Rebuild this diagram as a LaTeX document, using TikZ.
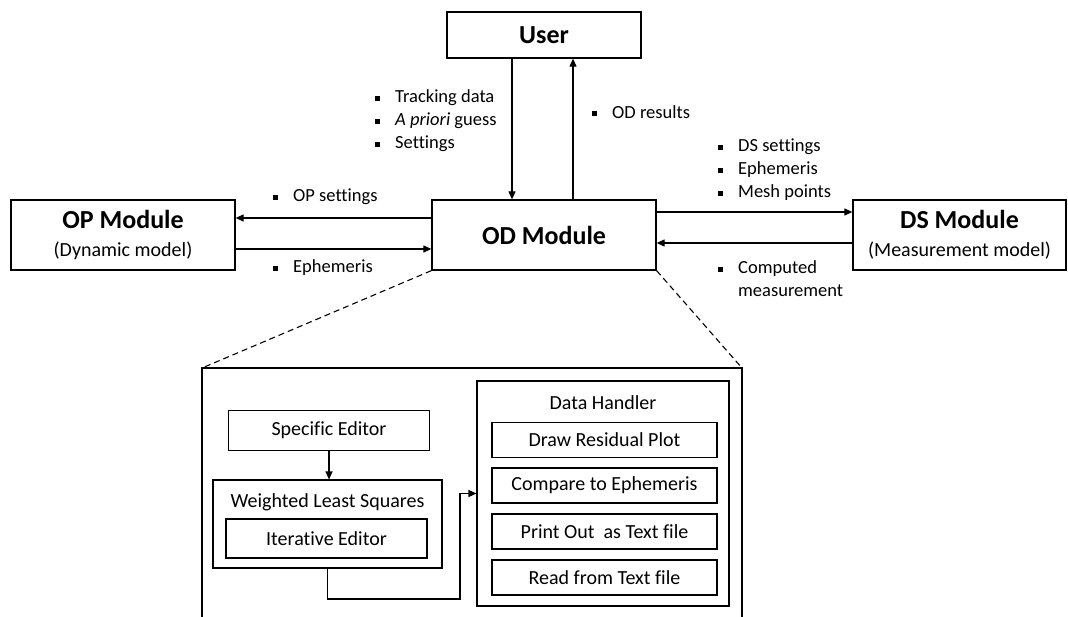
\documentclass[tikz,border=0pt]{standalone}
\usepackage{fontspec}
\setmainfont{Carlito}[Ligatures=NoCommon]
\usetikzlibrary{arrows.meta,calc}
\newcommand\bitem[1]{\makebox[20pt][l]{\rule[2pt]{5pt}{5pt}}#1}
\begin{document}
\begin{tikzpicture}[x=1pt,y=-1pt,
 box/.style={draw,line width=1.3pt,rectangle,inner sep=0pt,align=center},
 arr/.style={line width=1.2pt,-{Triangle[width=7pt,length=8pt]}},
 lbl/.style={inner sep=0pt,anchor=west,align=left,font=\fontsize{18.5}{23}\selectfont},
 ttl/.style={font=\bfseries\fontsize{26}{30}\selectfont},
 twol/.style={font=\fontsize{20}{28}\selectfont},
 ibox/.style={box,line width=1.1pt,font=\fontsize{20}{24}\selectfont},
 zoomline/.style={line width=1.1pt,dash pattern=on 6pt off 4pt}]
\useasboundingbox (0,0) rectangle (1068,617);

% main modules
\node[box,ttl,minimum width=194pt,minimum height=46pt] (user) at (544,35) {User};
\node[box,ttl,minimum width=224pt,minimum height=70pt] (od) at (544,235) {OD Module};
\node[box,twol,minimum width=224pt,minimum height=70pt] (op) at (123,235)
  {{\bfseries\fontsize{26}{28}\selectfont OP Module}\\(Dynamic model)};
\node[box,twol,minimum width=213pt,minimum height=70pt] (ds) at (959.5,235)
  {{\bfseries\fontsize{26}{28}\selectfont DS Module}\\(Measurement model)};

% connectors
\draw[arr] ([xshift=-32pt]user.south) -- ([xshift=-32pt]od.north);
\draw[arr] ([xshift=29pt]od.north) -- ([xshift=29pt]user.south);
\draw[arr] ([yshift=17pt]od.west) -- ([yshift=17pt]op.east);
\draw[arr] ([yshift=-14pt]op.east) -- ([yshift=-14pt]od.west);
\draw[arr] ([yshift=23pt]od.east) -- ([yshift=23pt]ds.west);
\draw[arr] ([yshift=-8pt]ds.west) -- ([yshift=-8pt]od.east);

% labels
\node[lbl] (ltrack) at (375,121) {\bitem{Tracking data}\\\bitem{\textit{A priori} guess}\\\bitem{Settings}};
\node[lbl] (lodres) at (592,112) {\bitem{OD results}};
\node[lbl] (lopset) at (273,197) {\bitem{OP settings}};
\node[lbl] (lopeph) at (273,268) {\bitem{Ephemeris}};
\node[lbl] (ldsset) at (718,170) {\bitem{DS settings}\\\bitem{Ephemeris}\\\bitem{Mesh points}};
\node[lbl] (lcomp) at (718,279) {\bitem{Computed}\\\hspace*{20pt}measurement};

% detail frame
\coordinate (dbl) at (202,640);
\coordinate (dtl) at (202,368);
\coordinate (dtr) at (742,368);
\coordinate (dbr) at (742,640);
\draw[line width=1.3pt] (dbl) -- (dtl) -- (dtr) -- (dbr);
\draw[zoomline] (od.south west) -- (dtl);
\draw[zoomline] (od.south east) -- (dtr);

% left part
\node[ibox,minimum width=201pt,minimum height=40pt] (se) at (329,430.5) {Specific Editor};
\node[box,line width=1.1pt,minimum width=229pt,minimum height=88pt] (wls) at (327.5,524) {};
\node[inner sep=0pt,font=\fontsize{20}{24}\selectfont] (wlst) at (327.5,502) {Weighted Least Squares};
\node[ibox,minimum width=201pt,minimum height=39pt] (ie) at (326.5,538.5) {Iterative Editor};
\draw[arr,line width=1.1pt] (se.south) -- (se.south |- wls.north);

% data handler
\node[box,line width=1.1pt,minimum width=252pt,minimum height=225pt] (dh) at (603,493.5) {};
\node[inner sep=0pt,font=\fontsize{20}{24}\selectfont] (dht) at (603,403) {Data Handler};
\node[ibox,minimum width=225pt,minimum height=35pt] (b1) at (604.5,440) {Draw Residual Plot};
\node[ibox,minimum width=225pt,minimum height=35pt] (b2) at (604.5,485.5) {Compare to Ephemeris};
\node[ibox,minimum width=225pt,minimum height=35pt] (b3) at (604.5,531.5) {Print Out~ as Text file};
\node[ibox,minimum width=225pt,minimum height=35pt] (b4) at (604.5,577.5) {Read from Text file};

\coordinate (cb) at (460,599);
\draw[arr,line width=1.1pt] (wls.south) |- (cb) |- (dh.west);
\end{tikzpicture}
\end{document}
